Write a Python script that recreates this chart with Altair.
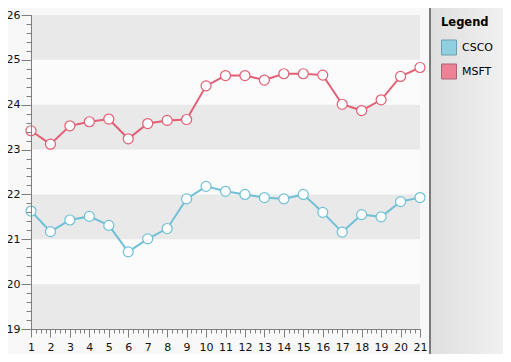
import altair as alt
import pandas as pd

days = list(range(1, 22))
csco = [21.63, 21.17, 21.43, 21.51, 21.31, 20.72, 21.01, 21.24, 21.90, 22.18, 22.07,
        22.00, 21.93, 21.90, 22.00, 21.60, 21.16, 21.55, 21.50, 21.84, 21.93]
msft = [23.42, 23.12, 23.53, 23.62, 23.68, 23.24, 23.58, 23.65, 23.67, 24.42, 24.65,
        24.65, 24.55, 24.69, 24.69, 24.66, 24.01, 23.87, 24.11, 24.63, 24.83]
series = ["CSCO", "MSFT"]
line_colors = ["#70c0d6", "#e35f75"]
swatch_fills = ["#90cfe0", "#ec8295"]
swatch_strokes = ["#6d9eac", "#ad6574"]
band_lo = [19, 21, 23, 25]
band_hi = [20, 22, 24, 26]
y_major = list(range(19, 27))
x_minor = [1 + i * 0.25 for i in range(81)]
y_minor = [round(19 + i * 0.2, 1) for i in range(36)]

FONT = "DejaVu Sans"
W, H = 389, 314
PAD = {"left": 23, "top": 7, "right": 83, "bottom": 25}

df = pd.DataFrame({
    "Day": days * 2,
    "Value": csco + msft,
    "Symbol": ["CSCO"] * len(days) + ["MSFT"] * len(days),
})
bands_df = pd.DataFrame({"lo": band_lo, "hi": band_hi})
one = pd.DataFrame({"a": [0]})

xscale = alt.Scale(domain=[1, 21], nice=False, zero=False)
yscale = alt.Scale(domain=[19, 26], nice=False, zero=False)

ax_major_x = alt.Axis(values=days, orient="bottom", tickSize=8, labelPadding=4, domain=True,
                      domainColor="#7f7f7f", tickColor="#7f7f7f", domainWidth=1,
                      labelFont=FONT, labelFontSize=11, labelColor="#111111", grid=False,
                      title=None, labelAngle=0, format="d", labelFlush=False,
                      labelOverlap=False, zindex=2)
ax_minor_x = alt.Axis(values=x_minor, orient="bottom", tickSize=4, labels=False, domain=False,
                      grid=False, title=None, tickColor="#7f7f7f", zindex=2)
ax_major_y = alt.Axis(values=y_major, orient="left", tickSize=10, labelPadding=1, domain=True,
                      domainColor="#7f7f7f", tickColor="#7f7f7f", domainWidth=1,
                      labelFont=FONT, labelFontSize=11, labelColor="#111111", grid=False,
                      title=None, format="d", labelFlush=False, labelOverlap=False, zindex=2)
ax_minor_y = alt.Axis(values=y_minor, orient="left", tickSize=5, labels=False, domain=False,
                      grid=False, title=None, tickColor="#7f7f7f", zindex=2)

panel_grad = alt.LinearGradient(
    gradient="linear",
    stops=[alt.GradientStop(color="#dfdfdf", offset=0),
           alt.GradientStop(color="#f1f1f1", offset=1)],
    x1=0, x2=1, y1=0, y2=0)

panel = alt.Chart(one).mark_rect(fill=panel_grad, clip=False).encode(
    x=alt.value(399), x2=alt.value(475), y=alt.value(-8), y2=alt.value(345))
panel_edge = alt.Chart(one).mark_rule(color="#7a7a7a", strokeWidth=2, clip=False).encode(
    x=alt.value(399), y=alt.value(-8), y2=alt.value(345))
plot_bg = alt.Chart(one).mark_rect(fill="#fbfbfb").encode(
    x=alt.value(0), x2=alt.value(W), y=alt.value(0), y2=alt.value(H))

bands = alt.Chart(bands_df).mark_rect(color="#e9e9e9").encode(
    y=alt.Y("lo:Q", scale=yscale, axis=None), y2="hi:Q")

lines = alt.Chart(df).mark_line(strokeWidth=2).encode(
    x=alt.X("Day:Q", scale=xscale, axis=ax_major_x),
    y=alt.Y("Value:Q", scale=yscale, axis=ax_major_y),
    color=alt.Color("Symbol:N", scale=alt.Scale(domain=series, range=line_colors), legend=None),
)

legend = alt.Legend(title="Legend", orient="none", legendX=410, legendY=2, padding=0,
                    symbolType="square", symbolSize=225, symbolStrokeWidth=1,
                    titleFont=FONT, titleFontSize=11.5, titleFontWeight="bold",
                    titleColor="#000000", titlePadding=11, labelFont=FONT,
                    labelFontSize=11, labelColor="#000000", labelOffset=5, rowPadding=4,
                    zindex=3)

# fill/stroke scales take their domain from the data so that this legend is not
# merged into the (hidden) colour legend of the lines
swatches = alt.Chart(df).mark_square(size=16, filled=True, opacity=1).encode(
    x=alt.X("Day:Q", scale=xscale, axis=None),
    y=alt.Y("Value:Q", scale=yscale, axis=None),
    fill=alt.Fill("Symbol:N", scale=alt.Scale(range=swatch_fills), legend=legend),
    stroke=alt.Stroke("Symbol:N", scale=alt.Scale(range=swatch_strokes), legend=legend),
)

points = alt.Chart(df).mark_point(filled=False, fill="white", size=100, strokeWidth=1.2,
                                  opacity=1).encode(
    x=alt.X("Day:Q", scale=xscale, axis=ax_minor_x),
    y=alt.Y("Value:Q", scale=yscale, axis=ax_minor_y),
    color=alt.Color("Symbol:N", scale=alt.Scale(domain=series, range=line_colors), legend=None),
)

chart = alt.layer(panel, panel_edge, plot_bg, bands, lines, swatches, points).resolve_axis(
    x="independent", y="independent"
).properties(
    width=W, height=H,
    autosize=alt.AutoSizeParams(type="none"),
    padding=PAD,
    background="#f8f8f8",
).configure_view(strokeWidth=0)

chart.save("out.html", embed_options={"renderer": "svg", "actions": False})
